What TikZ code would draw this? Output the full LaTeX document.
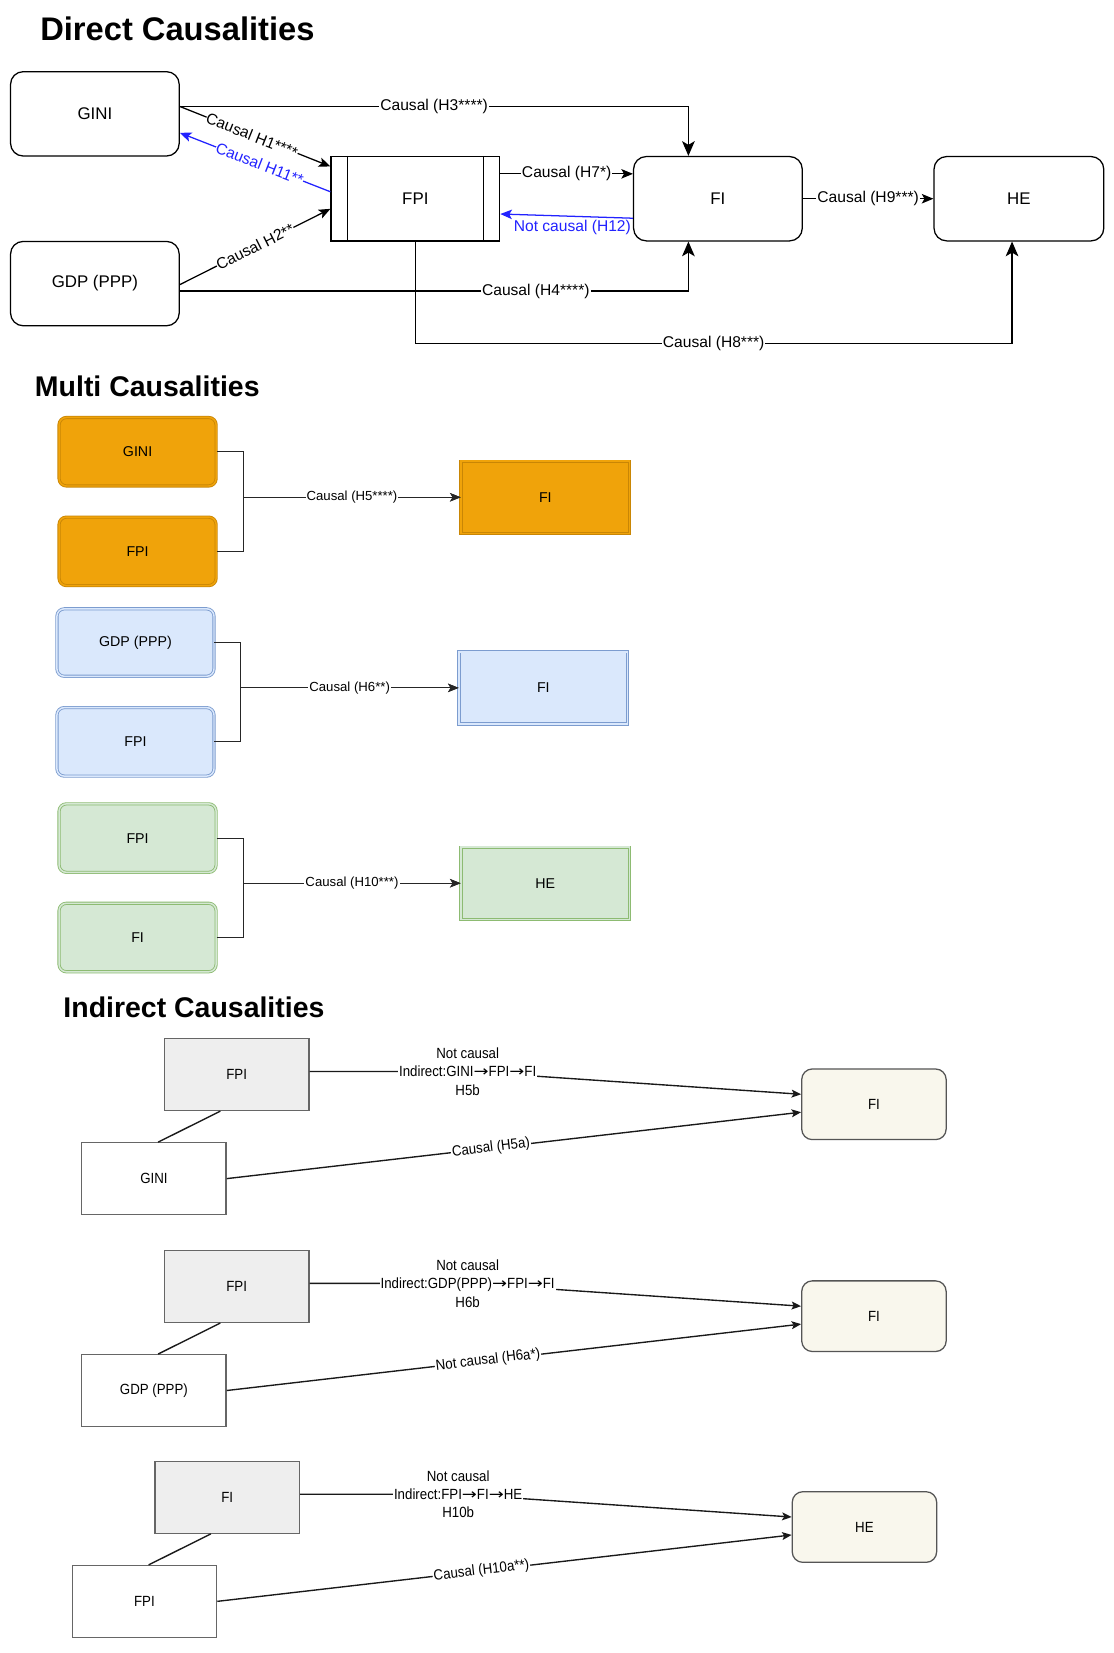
\documentclass[tikz,border=0pt]{standalone}
\usepackage{fontspec}
\setmainfont{Liberation Sans}
\newfontfamily\arrowfont{DejaVu Sans}
\usepackage{graphicx}
\usetikzlibrary{arrows.meta,calc}
\definecolor{orfill}{HTML}{F0A30A}
\definecolor{ordraw}{HTML}{C98605}
\definecolor{blfill}{HTML}{DAE8FC}
\definecolor{bldraw}{HTML}{7C9CCF}
\definecolor{grfill}{HTML}{D5E8D4}
\definecolor{grdraw}{HTML}{8DBB72}
\definecolor{gyfill}{HTML}{EEEEEE}
\definecolor{gydraw}{HTML}{666666}
\definecolor{crfill}{HTML}{F9F7ED}
\definecolor{crdraw}{HTML}{555555}
\definecolor{hblue}{HTML}{2222FF}
\newcommand\sztitleA{\fontsize{31}{37}\selectfont\bfseries}
\newcommand\sztitleB{\fontsize{27}{32}\selectfont\bfseries}
\newcommand\sztop{\fontsize{16}{19}\selectfont}
\newcommand\sztl{\fontsize{14.8}{17}\selectfont}
\newcommand\szm{\fontsize{13.5}{16}\selectfont}
\newcommand\szml{\fontsize{12.5}{15}\selectfont}
\newcommand\szi{\fontsize{14}{17.5}\selectfont}
\newcommand\cz[1]{\scalebox{0.9}[1]{#1}}
\newcommand\rarr{\scalebox{1.35}[1]{\arrowfont →}}
\begin{document}
\begin{tikzpicture}[x=1pt,y=-1pt,
  topbox/.style={draw=black, line width=1.2pt, fill=white, rounded corners=12pt,
    minimum width=160pt, minimum height=80pt, inner sep=0pt, font=\sztop},
  tline/.style={line width=1.2pt},
  arrtop/.style={-{Stealth[length=11pt,width=9pt,inset=2.5pt]}},
  arrbig/.style={-{Stealth[length=14pt,width=12pt,inset=3.5pt]}},
  arrm/.style={-{Stealth[length=10pt,width=8pt,inset=2.5pt]}},
  arri/.style={-{Stealth[length=9pt,width=7.5pt,inset=2pt]}},
  tlbl/.style={fill=white, inner sep=1pt, font=\sztl},
  tlbls/.style={fill=white, inner sep=0.3pt, font=\sztl, sloped},
  mbox/.style={line width=0.8pt, double distance=1.4pt, rounded corners=7pt,
    minimum width=149pt, minimum height=65pt, inner sep=0pt, font=\szm},
  mtarget/.style={sharp corners, minimum width=160pt, minimum height=68.5pt},
  obox/.style={mbox, draw=ordraw, double=orfill, fill=orfill},
  bbox/.style={mbox, draw=bldraw, double=blfill, fill=blfill},
  gbox/.style={mbox, draw=grdraw, double=grfill, fill=grfill},
  mline/.style={line width=1pt, draw=black!85},
  mlbl/.style={fill=white, inner sep=1pt, font=\szml},
  ibox/.style={draw=gydraw, line width=1.2pt, minimum width=137pt, minimum height=68pt,
    inner sep=0pt, font=\szi},
  igray/.style={ibox, fill=gyfill},
  iwhite/.style={ibox, fill=white},
  icream/.style={ibox, draw=crdraw, fill=crfill, rounded corners=10pt, minimum height=67pt},
  iline/.style={line width=1.3pt, draw=black!90},
  ilbl/.style={fill=white, inner sep=1pt, font=\szi},
  ilbl3/.style={fill=white, inner sep=1pt, font=\szi, align=center},
  title/.style={anchor=base west, inner sep=0pt}
]
\fill[white] (0,0) rectangle (1056,1568);
\useasboundingbox (0,0) rectangle (1056,1568);

% ---------- titles ----------
\node[title, font=\sztitleA] (t1) at (38,38) {Direct Causalities};
\node[title, font=\sztitleB] (t2) at (33,376) {Multi Causalities};
\node[title, font=\sztitleB] (t3) at (60,965) {Indirect Causalities};

% ---------- direct ----------
\node[topbox] (gini) at (90,108) {GINI};
\node[topbox] (gdp) at (90,269) {GDP (PPP)};
\node[topbox, sharp corners] (fpi) at (394,188.5) {FPI};
\draw[tline] ($(fpi.north west)+(16,0)$) -- ($(fpi.south west)+(16,0)$);
\draw[tline] ($(fpi.north east)+(-16,0)$) -- ($(fpi.south east)+(-16,0)$);
\node[topbox] (fi) at (681,188.5) {FI};
\node[topbox, minimum width=161pt] (he) at (966.5,188.5) {HE};

\draw[tline, arrbig] ($(gini.east)+(0,-7)$) -| node[tlbl, pos=0.25]{Causal (H3****)} ($(fi.north)+(-28,0)$);
\draw[tline, arrtop] ($(gini.east)+(0,-7)$) -- node[tlbls, pos=0.48]{Causal H1****} ($(fpi.north west)+(0,10)$);
\draw[tline, hblue, arrtop] ($(fpi.north west)+(0,34)$) -- node[tlbls, pos=0.47, text=hblue]{Causal H11**} ($(gini.east)+(0,18)$);
\draw[tline, arrtop] ($(gdp.east)+(0,1)$) -- node[tlbls]{Causal H2**} ($(fpi.south west)+(0,-31)$);
\draw[tline, arrbig] ($(gdp.east)+(0,7)$) -| node[tlbl, pos=0.35]{Causal (H4****)} ($(fi.south)+(-28,0)$);
\draw[tline, arrtop] ($(fpi.north east)+(0,17)$) -- node[tlbl]{Causal (H7*)} ($(fi.north west)+(0,17)$);
\draw[tline, hblue, arrtop] ($(fi.west)+(0,18.5)$) -- node[pos=0.457, below=2pt, inner sep=1pt, font=\sztl, text=hblue]{Not causal (H12)} ($(fpi.east)+(0,14.5)$);
\draw[tline, arrtop] (fi.east) -- node[tlbl]{Causal (H9***)} (he.west);
\draw[tline, arrbig] (fpi.south) -- ++(0,97) -| node[tlbl, pos=0.25]{Causal (H8***)} ($(he.south)+(-6.5,0)$);

% ---------- multi ----------
\node[obox] (mgini) at (130.5,428.5) {GINI};
\node[obox] (mfpia) at (130.5,523) {FPI};
\node[obox, mtarget] (mfia) at (517.3,471.7) {FI};
\draw[mline, arrm] (mgini.east) -- ++(25.5,0) |- (mfia.west);
\draw[mline, arrm] (mfpia.east) -- ++(25.5,0) |- node[mlbl, pos=0.75]{Causal (H5****)} (mfia.west);

\node[bbox, minimum height=64pt] (mgdp) at (128.5,609.5) {GDP (PPP)};
\node[bbox] (mfpib) at (128.5,703.7) {FPI};
\node[bbox, mtarget] (mfib) at (515.4,652.5) {FI};
\draw[mline, arrm] (mgdp.east) -- ++(25,0) |- (mfib.west);
\draw[mline, arrm] (mfpib.east) -- ++(25,0) |- node[mlbl, pos=0.75]{Causal (H6**)} (mfib.west);

\node[gbox] (mfpic) at (130.5,795) {FPI};
\node[gbox] (mfic) at (130.5,889.3) {FI};
\node[gbox, mtarget] (mhe) at (517.3,837.8) {HE};
\draw[mline, arrm] (mfpic.east) -- ++(25.5,0) |- (mhe.west);
\draw[mline, arrm] (mfic.east) -- ++(25.5,0) |- node[mlbl, pos=0.75]{Causal (H10***)} (mhe.west);

% ---------- indirect ----------
% group 1
\node[igray] (ifpa) at (224.5,1019.4) {\cz{FPI}};
\node[iwhite] (igini) at (146,1118) {\cz{GINI}};
\node[icream] (ifia) at (829,1047.5) {\cz{FI}};
\draw[iline] ($(ifpa.south)+(-15.5,0)$) -- ($(igini.north)+(4,0)$);
\draw[iline, arri] ($(ifpa.east)+(0,-3)$) -- ++(150,0)
  node[ilbl3]{\cz{Not causal}\\\cz{Indirect:GINI\rarr FPI\rarr FI}\\\cz{H5b}}
  -- ($(ifia.west)+(0,-9.5)$);
\draw[iline, arri] (igini.east) -- node[ilbl, sloped, pos=0.46]{\cz{Causal (H5a)}} ($(ifia.west)+(0,7.5)$);

% group 2
\node[igray] (ifpb) at (224.5,1220.4) {\cz{FPI}};
\node[iwhite] (igdp) at (146,1319) {\cz{GDP (PPP)}};
\node[icream] (ifib) at (829,1248.5) {\cz{FI}};
\draw[iline] ($(ifpb.south)+(-15.5,0)$) -- ($(igdp.north)+(4,0)$);
\draw[iline, arri] ($(ifpb.east)+(0,-3)$) -- ++(150,0)
  node[ilbl3]{\cz{Not causal}\\\cz{Indirect:GDP(PPP)\rarr FPI\rarr FI}\\\cz{H6b}}
  -- ($(ifib.west)+(0,-9.5)$);
\draw[iline, arri] (igdp.east) -- node[ilbl, sloped, pos=0.455]{\cz{Not causal (H6a*)}} ($(ifib.west)+(0,7.5)$);

% group 3
\node[igray] (ific) at (215.5,1420.4) {\cz{FI}};
\node[iwhite] (ifpc) at (137,1519) {\cz{FPI}};
\node[icream] (ihe) at (820,1448.5) {\cz{HE}};
\draw[iline] ($(ific.south)+(-15.5,0)$) -- ($(ifpc.north)+(4,0)$);
\draw[iline, arri] ($(ific.east)+(0,-3)$) -- ++(150,0)
  node[ilbl3]{\cz{Not causal}\\\cz{Indirect:FPI\rarr FI\rarr HE}\\\cz{H10b}}
  -- ($(ihe.west)+(0,-9.5)$);
\draw[iline, arri] (ifpc.east) -- node[ilbl, sloped, pos=0.46]{\cz{Causal (H10a**)}} ($(ihe.west)+(0,7.5)$);
\end{tikzpicture}
\end{document}
